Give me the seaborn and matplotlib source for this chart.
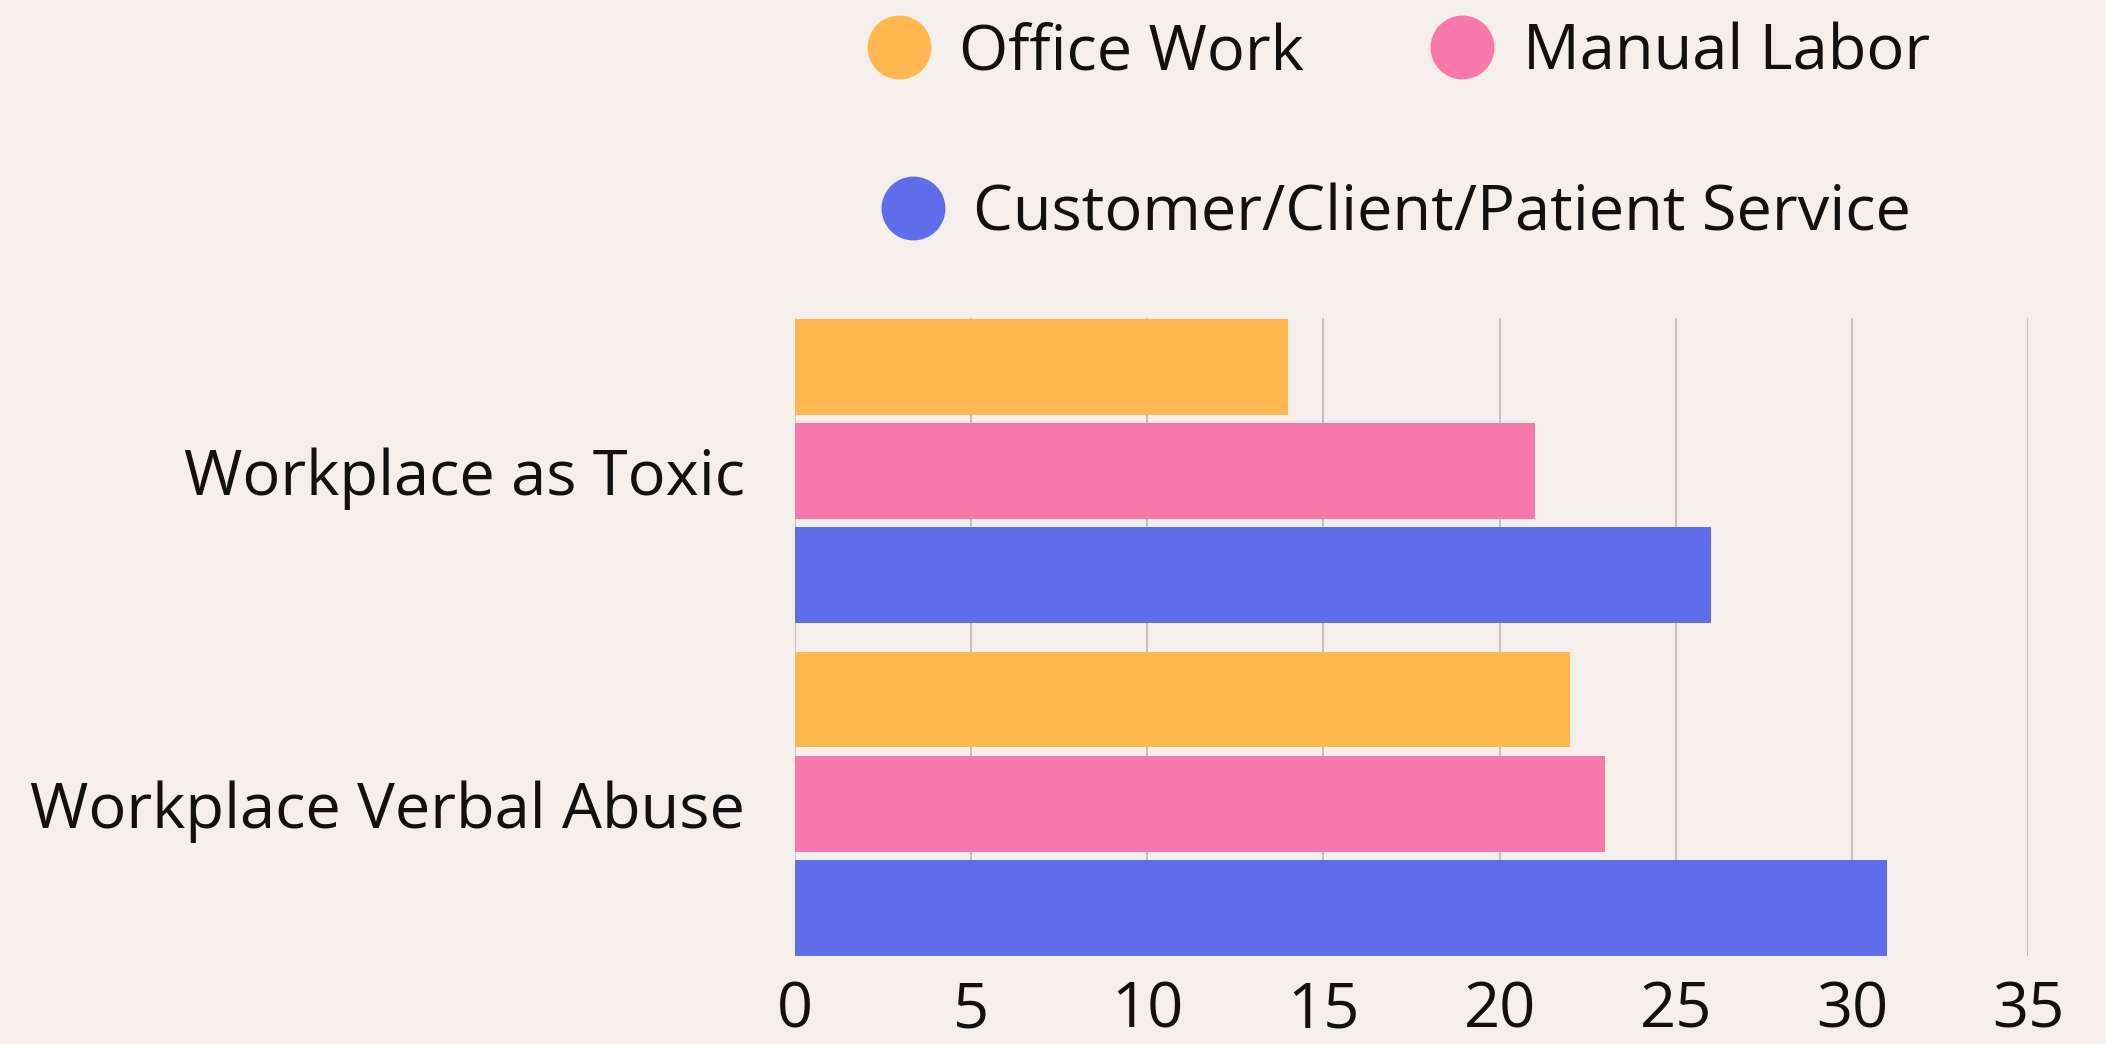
import matplotlib
matplotlib.use('Agg')
import matplotlib.pyplot as plt
import seaborn as sns
import pandas as pd
from matplotlib.lines import Line2D

categories = ['Workplace as Toxic', 'Workplace Verbal Abuse']
groups = ['Office Work', 'Manual Labor', 'Customer/Client/Patient Service']
office_work = [14, 22]
manual_labor = [21, 23]
customer_service = [26, 31]
x_ticks = [0, 5, 10, 15, 20, 25, 30, 35]

colors = ['#FFB84F', '#F878AB', '#5F6DEA']
bg = '#F4EFEA'
FS = 45.5

df = pd.DataFrame({
    'Category': categories * 3,
    'Group': [g for g in groups for _ in categories],
    'Value': office_work + manual_labor + customer_service,
})

sns.set_theme(style='white')
plt.rcParams['font.family'] = ['Open Sans', 'DejaVu Sans']

fig = plt.figure(figsize=(21.06, 10.44), dpi=100, facecolor=bg)
ax = fig.add_axes([0.3775, 0.084, 0.5855, 0.611])
ax.set_facecolor(bg)

sns.barplot(data=df, y='Category', x='Value', hue='Group', hue_order=groups,
            order=categories, palette=colors, orient='h', width=0.94, gap=0.08,
            saturation=1, legend=False, linewidth=0, ax=ax)

ax.set_xlim(0, 35)
ax.set_ylim(1.458, -0.458)
ax.set_xticks(x_ticks)
ax.xaxis.grid(True, color='#bcb9b5', lw=1.2)
ax.yaxis.grid(False)
ax.set_axisbelow(True)
for s in ax.spines.values():
    s.set_visible(False)
ax.set_xlabel('')
ax.set_ylabel('')
ax.tick_params(axis='x', length=0, labelsize=FS, pad=17, colors='#111111')
ax.tick_params(axis='y', length=0, labelsize=FS, pad=36, colors='#111111')

h = [Line2D([], [], ls='', marker='o', ms=45, mfc=c, mec=c) for c in colors]
fig.legend(h[:2], groups[:2], loc='center', bbox_to_anchor=(0.664, 0.949), ncol=2,
           frameon=False, fontsize=FS, handlelength=1.0, handletextpad=0.46,
           columnspacing=2.0, labelcolor='#111111')
fig.legend(h[2:], groups[2:], loc='center', bbox_to_anchor=(0.663, 0.795),
           frameon=False, fontsize=FS, handlelength=1.0, handletextpad=0.46,
           labelcolor='#111111')

fig.savefig('out.png', dpi=100, facecolor=bg)
